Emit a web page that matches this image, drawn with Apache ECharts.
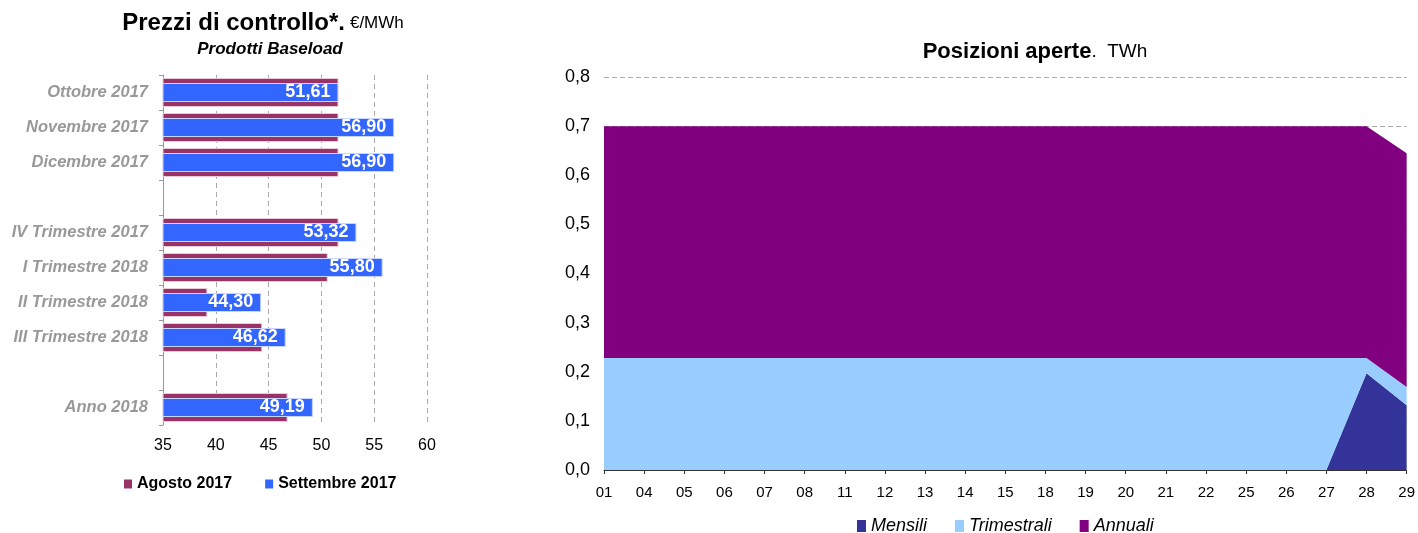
<!DOCTYPE html>
<html>
<head>
<meta charset="utf-8">
<script src="https://cdn.jsdelivr.net/npm/echarts@6/dist/echarts.min.js"></script>
<style>
  html, body { margin: 0; padding: 0; background: #fff; }
  #chart { width: 1418px; height: 533px; }
</style>
</head>
<body>
<div id="chart"></div>
<script>
// Prezzi di controllo (€/MWh) – prodotti baseload
const prodotti = ['Ottobre 2017', 'Novembre 2017', 'Dicembre 2017', '', 'IV Trimestre 2017',
  'I Trimestre 2018', 'II Trimestre 2018', 'III Trimestre 2018', '', 'Anno 2018'];
const agosto2017 = [51.62, 51.62, 51.62, null, 51.62, 50.60, 39.20, 44.40, null, 46.80];
const settembre2017 = [51.61, 56.90, 56.90, null, 53.32, 55.80, 44.30, 46.62, null, 49.19];
const prezziTicks = { min: 35, max: 60, step: 5 };

// Posizioni aperte (TWh)
const giorni = ['01', '04', '05', '06', '07', '08', '11', '12', '13', '14', '15', '18', '19', '20', '21', '22', '25', '26', '27', '28', '29'];
const mensili = [0, 0, 0, 0, 0, 0, 0, 0, 0, 0, 0, 0, 0, 0, 0, 0, 0, 0, 0, 0.197, 0.132];
const trimestrali = [0.228, 0.228, 0.228, 0.228, 0.228, 0.228, 0.228, 0.228, 0.228, 0.228, 0.228, 0.228, 0.228, 0.228, 0.228, 0.228, 0.228, 0.228, 0.228, 0.031, 0.037];
const annuali = [0.472, 0.472, 0.472, 0.472, 0.472, 0.472, 0.472, 0.472, 0.472, 0.472, 0.472, 0.472, 0.472, 0.472, 0.472, 0.472, 0.472, 0.472, 0.472, 0.472, 0.476];
const posizioniTicks = { min: 0, max: 0.8, step: 0.1 };

const FONT = 'Liberation Sans, Arial, sans-serif';
const comma = (v, d) => v.toFixed(d).replace('.', ',');

const chart = echarts.init(document.getElementById('chart'), null, { renderer: 'canvas' });

chart.setOption({
  animation: false,
  textStyle: { fontFamily: FONT },
  title: [
    {
      left: 258, top: 6, textAlign: 'center',
      text: '{b|Prezzi di controllo*.} {n|€/MWh}',
      textStyle: {
        rich: {
          b: { fontFamily: FONT, fontSize: 24, fontWeight: 'bold', color: '#000' },
          n: { fontFamily: FONT, fontSize: 17, fontWeight: 'normal', color: '#000' }
        }
      }
    },
    {
      left: 265, top: 36, textAlign: 'center',
      text: 'Prodotti Baseload',
      textStyle: { fontFamily: FONT, fontSize: 17, fontWeight: 'bold', fontStyle: 'italic', color: '#000' }
    },
    {
      left: 1030, top: 36, textAlign: 'center',
      text: '{b|Posizioni aperte}{n|.  TWh}',
      textStyle: {
        rich: {
          b: { fontFamily: FONT, fontSize: 22, fontWeight: 'bold', color: '#000' },
          n: { fontFamily: FONT, fontSize: 19, fontWeight: 'normal', color: '#000' }
        }
      }
    }
  ],
  legend: [
    {
      left: 119, top: 471,
      data: ['Agosto 2017', 'Settembre 2017'],
      icon: 'rect', itemWidth: 8, itemHeight: 9, itemGap: 33,
      itemStyle: { borderWidth: 0 },
      textStyle: { fontFamily: FONT, fontSize: 16, fontWeight: 'bold', color: '#000' }
    },
    {
      left: 852, top: 512,
      data: ['Mensili', 'Trimestrali', 'Annuali'],
      icon: 'rect', itemWidth: 9, itemHeight: 12, itemGap: 28,
      itemStyle: { borderWidth: 0 },
      textStyle: { fontFamily: FONT, fontSize: 18, fontStyle: 'italic', color: '#000' }
    }
  ],
  grid: [
    { left: 163, right: 991, top: 75, bottom: 108 },
    { left: 604, right: 9, top: 77, bottom: 63 }
  ],
  xAxis: [
    {
      gridIndex: 0, type: 'value',
      min: prezziTicks.min, max: prezziTicks.max, interval: prezziTicks.step,
      axisLine: { show: false }, axisTick: { show: false },
      axisLabel: { fontFamily: FONT, fontSize: 16, color: '#000', margin: 13 },
      splitLine: { show: true, lineStyle: { type: [5, 4], color: '#aaa', width: 1 } }
    },
    {
      gridIndex: 1, type: 'category', data: giorni, boundaryGap: false,
      axisLine: { show: true, lineStyle: { color: '#333', width: 1 } },
      axisTick: { show: true, length: 4, lineStyle: { color: '#333' } },
      axisLabel: { fontFamily: FONT, fontSize: 15, color: '#000', margin: 15 },
      splitLine: { show: false }
    }
  ],
  yAxis: [
    {
      gridIndex: 0, type: 'category', data: prodotti, inverse: true,
      axisLine: { show: true, lineStyle: { color: '#999' } },
      axisTick: { show: true, length: 4, lineStyle: { color: '#999' } },
      axisLabel: { fontFamily: FONT, fontSize: 16.5, fontWeight: 'bold', fontStyle: 'italic', color: '#999', margin: 15 }
    },
    {
      gridIndex: 0, type: 'category', data: prodotti, inverse: true, show: false
    },
    {
      gridIndex: 1, type: 'value',
      min: posizioniTicks.min, max: posizioniTicks.max, interval: posizioniTicks.step,
      axisLine: { show: false }, axisTick: { show: false },
      axisLabel: { fontFamily: FONT, fontSize: 18, color: '#000', margin: 14, formatter: v => comma(v, 1) },
      splitLine: { show: true, lineStyle: { type: [5, 3], color: '#aaa', width: 1 } }
    }
  ],
  series: [
    {
      name: 'Agosto 2017', type: 'bar', xAxisIndex: 0, yAxisIndex: 0,
      data: agosto2017, barWidth: 29,
      itemStyle: { color: '#993366', borderColor: '#e8cada', borderWidth: 1 }
    },
    {
      name: 'Settembre 2017', type: 'bar', xAxisIndex: 0, yAxisIndex: 1,
      data: settembre2017, barWidth: 19,
      itemStyle: { color: '#3366FF', borderColor: '#c8d6ff', borderWidth: 1 },
      label: {
        show: true, position: 'insideRight', distance: 8,
        fontFamily: FONT, fontSize: 18, fontWeight: 'bold', color: '#fff',
        formatter: p => comma(p.value, 2)
      }
    },
    {
      name: 'Mensili', type: 'line', xAxisIndex: 1, yAxisIndex: 2, stack: 'pos',
      data: mensili, symbol: 'none', lineStyle: { width: 0 },
      itemStyle: { color: '#333399' }, areaStyle: { color: '#333399', opacity: 1 }
    },
    {
      name: 'Trimestrali', type: 'line', xAxisIndex: 1, yAxisIndex: 2, stack: 'pos',
      data: trimestrali, symbol: 'none', lineStyle: { width: 0 },
      itemStyle: { color: '#99CCFF' }, areaStyle: { color: '#99CCFF', opacity: 1 }
    },
    {
      name: 'Annuali', type: 'line', xAxisIndex: 1, yAxisIndex: 2, stack: 'pos',
      data: annuali, symbol: 'none', lineStyle: { width: 0 },
      itemStyle: { color: '#800080' }, areaStyle: { color: '#800080', opacity: 1 }
    }
  ]
});
</script>
</body>
</html>
